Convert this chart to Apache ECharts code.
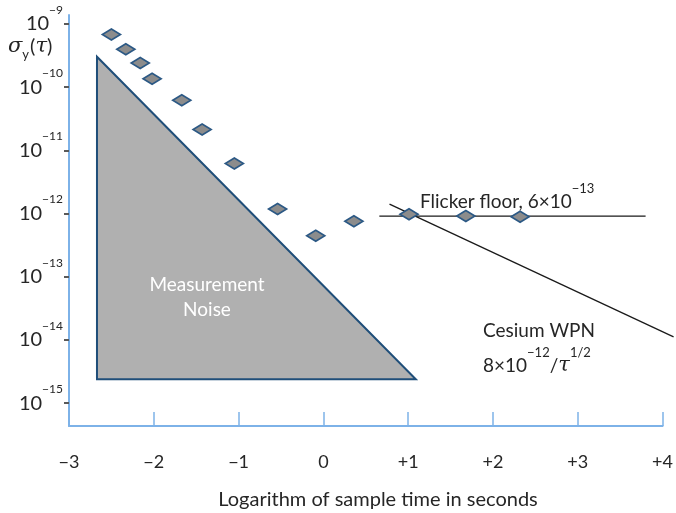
<!DOCTYPE html>
<html>
<head>
	<meta charset="utf-8" />
	<title>Allan deviation vs sample time</title>
	<style type="text/css">
	*{margin: 0;padding: 0;}
	#main{width: 676px;height: 513px;}
	</style>
</head>
<body>
<div id="main"></div>
<script src="https://cdn.jsdelivr.net/npm/echarts@6/dist/echarts.min.js"></script>
<script type="text/javascript">
	// everything is in log10 units (x: log tau, y: log sigma)
	var xTicks = [-3, -2, -1, 0, 1, 2, 3, 4];
	var yTicks = [-15, -14, -13, -12, -11, -10, -9];

	var measTau   = [-2.50, -2.33, -2.16, -2.02, -1.67, -1.43, -1.05, -0.54, -0.09, 0.36, 1.01, 1.68, 2.32];
	var measSigma = [-9.17, -9.40, -9.62, -9.87, -10.21, -10.67, -11.21, -11.93, -12.35, -12.12, -12.01, -12.04, -12.05];

	var noiseTau   = [-2.67, -2.67, 1.09];
	var noiseSigma = [-9.52, -14.62, -14.62];

	var floorTau   = [0.66, 3.80];
	var floorSigma = [-12.04, -12.04];

	// runs a little past the right end of the axis
	var wpnTau   = [0.78, 4.13];
	var wpnSigma = [-11.85, -13.95];

	var font = 'Lato';
	var blue = '#7db2e8';
	var ink = '#262626';

	function pairs(xs, ys) {
		var out = [];
		for (var i = 0; i < xs.length; i++) out.push([xs[i], ys[i]]);
		return out;
	}

	var option = {
		animation: false,
		textStyle: {fontFamily: font},
		grid: {left: 69, right: 12, top: 15, bottom: 87},
		xAxis: {
			type: 'value',
			min: xTicks[0],
			max: xTicks[xTicks.length - 1],
			interval: 1,
			axisLine: {onZero: false, lineStyle: {color: blue, width: 2}},
			axisTick: {inside: true, length: 14, lineStyle: {color: blue, width: 1.5}},
			splitLine: {show: false},
			axisLabel: {
				margin: 27,
				fontSize: 18,
				color: ink,
				fontFamily: font,
				formatter: function (v) {
					if (v < 0) return '\u2212' + Math.abs(v);
					if (v > 0) return '+' + v;
					return '0';
				}
			}
		},
		yAxis: {
			type: 'value',
			min: -15.36,
			max: -8.86,
			axisLine: {show: true, onZero: false, lineStyle: {color: blue, width: 2}},
			axisTick: {show: true, customValues: yTicks, length: 5, lineStyle: {color: '#595959', width: 2}},
			splitLine: {show: false},
			axisLabel: {
				customValues: yTicks,
				margin: 6,
				color: ink,
				fontFamily: font,
				formatter: function (v) {
					return '{b|10}{s|\u2212' + Math.abs(v) + '}';
				},
				rich: {
					b: {fontSize: 20, fontFamily: font, color: ink},
					s: {fontSize: 12, fontFamily: font, color: ink, padding: [0, 0, 28, 0]}
				}
			}
		},
		graphic: [
			{
				type: 'text', x: 378, y: 500, z: 100,
				style: {text: 'Logarithm of sample time in seconds', fontSize: 20, fontFamily: font, fill: ink, align: 'center', verticalAlign: 'middle'}
			},
			{
				type: 'text', x: 8, y: 47, z: 100,
				style: {
					text: '{i|\u03c3}{sub|y}{n|(}{i|\u03c4}{n|)}',
					verticalAlign: 'middle',
					rich: {
						i: {fontSize: 21, fontStyle: 'italic', fontFamily: 'DejaVu Serif', fill: ink},
						n: {fontSize: 20, fontFamily: font, fill: ink},
						sub: {fontSize: 13, fontFamily: font, fill: ink, padding: [16, 1, 0, 0]}
					}
				}
			},
			{
				type: 'text', x: 420, y: 202, z: 100,
				style: {
					text: '{t|Flicker floor, 6\u00d710}{s|\u221213}',
					verticalAlign: 'middle',
					rich: {
						t: {fontSize: 19, fontFamily: font, fill: ink},
						s: {fontSize: 13, fontFamily: font, fill: ink, padding: [0, 0, 26, 0]}
					}
				}
			},
			{
				type: 'text', x: 483, y: 331, z: 100,
				style: {text: 'Cesium WPN', fontSize: 19, fontFamily: font, fill: ink, verticalAlign: 'middle'}
			},
			{
				type: 'text', x: 483, y: 366, z: 100,
				style: {
					text: '{t|8\u00d710}{s|\u221212}{t|/}{i|\u03c4}{s|1/2}',
					verticalAlign: 'middle',
					rich: {
						t: {fontSize: 19, fontFamily: font, fill: ink},
						i: {fontSize: 21, fontStyle: 'italic', fontFamily: 'DejaVu Serif', fill: ink},
						s: {fontSize: 13, fontFamily: font, fill: ink, padding: [0, 0, 26, 0]}
					}
				}
			},
			{
				type: 'text', x: 207, y: 285, z: 100,
				style: {text: 'Measurement', fontSize: 19, fontFamily: font, fill: '#ffffff', align: 'center', verticalAlign: 'middle'}
			},
			{
				type: 'text', x: 207, y: 310, z: 100,
				style: {text: 'Noise', fontSize: 19, fontFamily: font, fill: '#ffffff', align: 'center', verticalAlign: 'middle'}
			}
		],
		series: [
			{
				name: 'Measurement noise',
				type: 'custom',
				z: 1,
				data: [0],
				renderItem: function (params, api) {
					var pts = [];
					for (var i = 0; i < noiseTau.length; i++) {
						pts.push(api.coord([noiseTau[i], noiseSigma[i]]));
					}
					return {
						type: 'polygon',
						shape: {points: pts},
						style: {fill: '#b0b0b0', stroke: '#1f4e79', lineWidth: 2}
					};
				}
			},
			{
				name: 'Flicker floor',
				type: 'line',
				z: 2,
				symbol: 'none',
				data: pairs(floorTau, floorSigma),
				lineStyle: {color: '#1a1a1a', width: 1.3}
			},
			{
				// custom so it is not clipped at the grid edge
				name: 'Cesium WPN',
				type: 'custom',
				z: 2,
				clip: false,
				data: [0],
				renderItem: function (params, api) {
					var pts = [];
					for (var i = 0; i < wpnTau.length; i++) {
						pts.push(api.coord([wpnTau[i], wpnSigma[i]]));
					}
					return {
						type: 'polyline',
						shape: {points: pts},
						style: {fill: null, stroke: '#1a1a1a', lineWidth: 1.3}
					};
				}
			},
			{
				name: 'Measured',
				type: 'scatter',
				z: 3,
				symbol: 'diamond',
				symbolSize: [18, 11],
				data: pairs(measTau, measSigma),
				itemStyle: {color: '#8c8c8c', borderColor: '#2c5985', borderWidth: 1.8, opacity: 1}
			}
		]
	};

	var chart = echarts.init(document.getElementById('main'));
	chart.setOption(option);
</script>
</body>
</html>
